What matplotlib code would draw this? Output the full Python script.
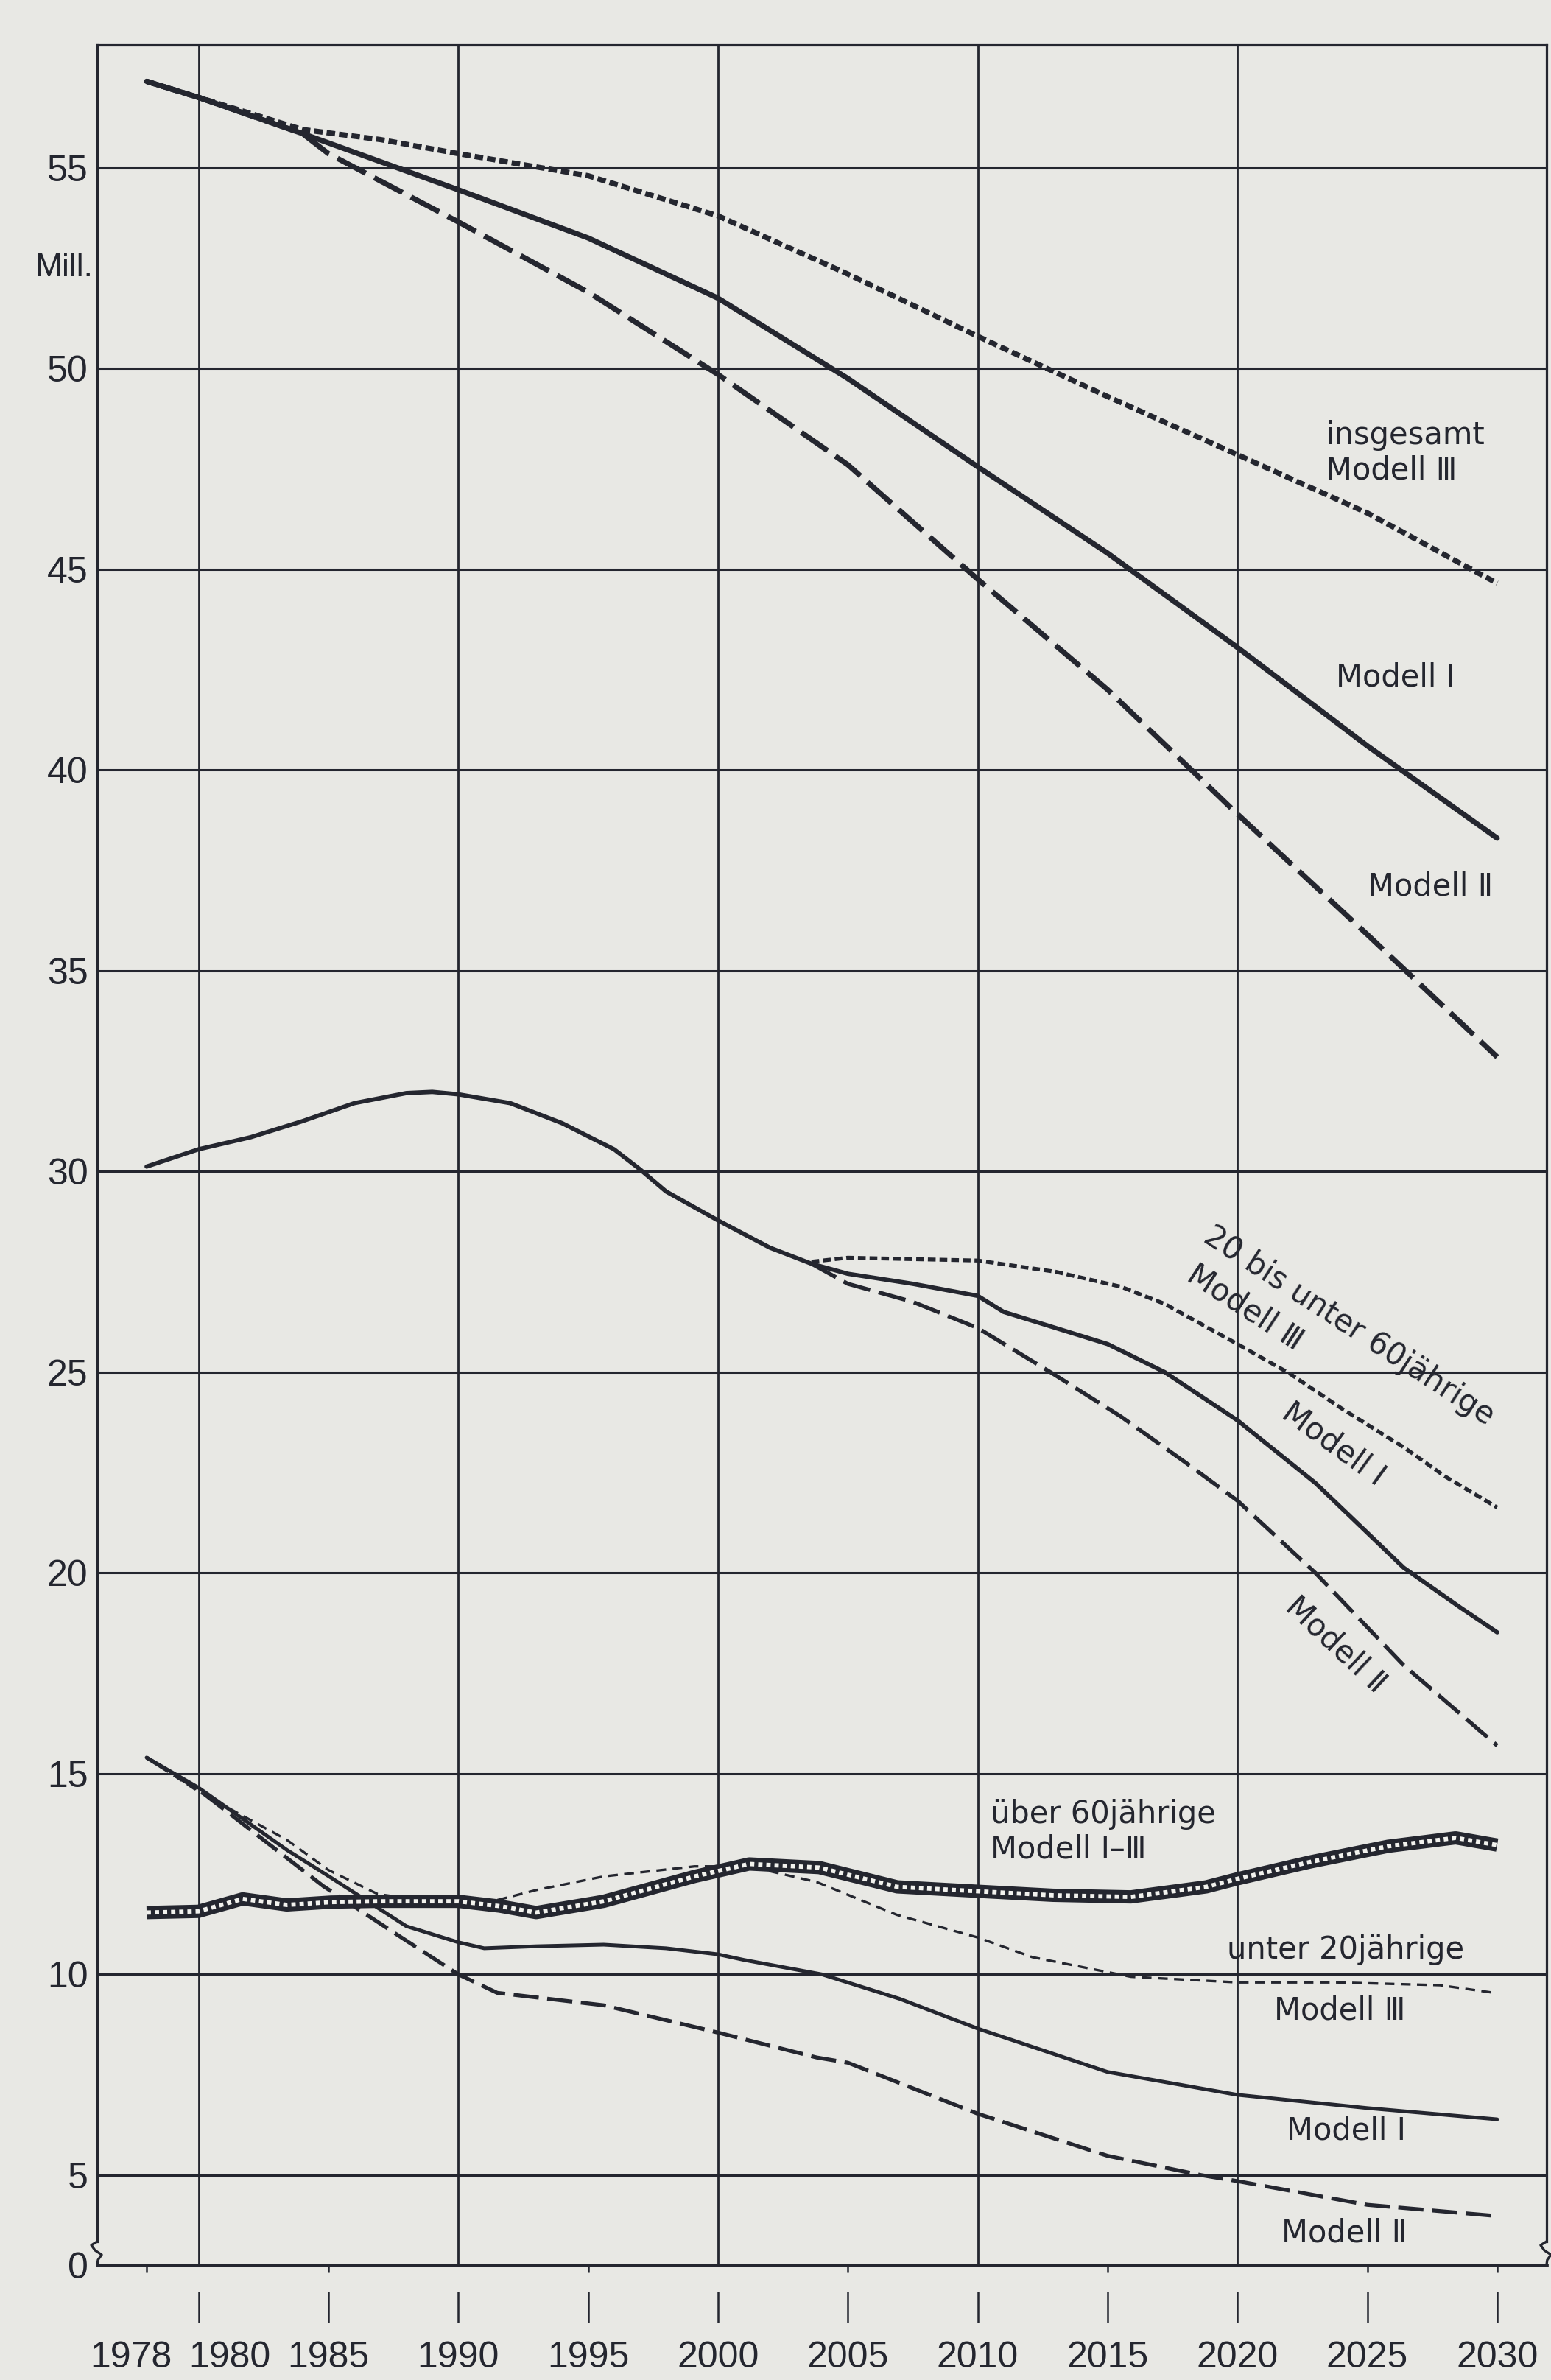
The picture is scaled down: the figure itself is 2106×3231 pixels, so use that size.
import matplotlib
matplotlib.use("Agg")
import matplotlib.pyplot as plt

# ---------------- data (Mill.) ----------------
# Bevoelkerung insgesamt
tot_I_x = [1978, 1980, 1984, 1990, 1995, 2000, 2002, 2005, 2010, 2015, 2020, 2025, 2030]
tot_I_y = [57.15, 56.75, 55.85, 54.45, 53.25, 51.75, 50.95, 49.75, 47.55, 45.4, 43.05, 40.6, 38.3]
tot_II_x = [1978, 1980, 1984, 1985, 1990, 1995, 2000, 2005, 2010, 2015, 2020, 2025, 2030]
tot_II_y = [57.15, 56.75, 55.85, 55.35, 53.65, 51.9, 49.85, 47.6, 44.75, 42.0, 38.9, 35.9, 32.85]
tot_III_x = [1978, 1980, 1984, 1987, 1990, 1995, 2000, 2005, 2010, 2015, 2020, 2025, 2030]
tot_III_y = [57.15, 56.75, 55.95, 55.7, 55.35, 54.8, 53.8, 52.35, 50.8, 49.3, 47.85, 46.4, 44.65]

# 20 bis unter 60jaehrige
mid_I_x = [1978, 1980, 1982, 1984, 1986, 1988, 1989, 1990, 1992, 1994, 1996, 1997, 1998, 2000, 2002,
           2003.6, 2005, 2007.5, 2010, 2011, 2015, 2017.2, 2020, 2023, 2025, 2026.4, 2028.6, 2030]
mid_I_y = [30.12, 30.55, 30.85, 31.25, 31.7, 31.95, 31.98, 31.92, 31.7, 31.2, 30.55, 30.05, 29.5, 28.78, 28.1,
           27.7, 27.45, 27.2, 26.9, 26.5, 25.7, 25.0, 23.8, 22.24, 21.0, 20.13, 19.13, 18.52]
mid_II_x = [2003.6, 2005, 2007.5, 2010, 2012.8, 2015.5, 2018, 2020, 2023, 2026.4, 2030]
mid_II_y = [27.7, 27.2, 26.75, 26.1, 25.0, 23.9, 22.75, 21.8, 20.0, 17.7, 15.7]
mid_III_x = [2003.6, 2005, 2010, 2013, 2015.5, 2017.2, 2020, 2022, 2024, 2026.4, 2028, 2030]
mid_III_y = [27.75, 27.85, 27.78, 27.5, 27.13, 26.7, 25.7, 24.97, 24.1, 23.13, 22.4, 21.63]

# ueber 60jaehrige (Modell I-III)
old_x = [1978, 1980, 1981.7, 1983.4, 1985.1, 1986.9, 1990, 1991.6, 1993, 1995.6, 1999.1, 2001.2,
         2003.9, 2006.9, 2010, 2012.9, 2015.9, 2018.8, 2020, 2022.8, 2025.8, 2028.4, 2030]
old_y = [11.54, 11.57, 11.88, 11.73, 11.8, 11.82, 11.82, 11.7, 11.54, 11.82, 12.44, 12.75,
         12.66, 12.18, 12.07, 11.97, 11.93, 12.18, 12.38, 12.8, 13.19, 13.4, 13.22]

# unter 20jaehrige
young_I_x = [1978, 1980, 1983.4, 1985, 1988, 1990, 1991, 1993, 1995.6, 1998, 2000, 2001, 2004, 2007,
             2010, 2015, 2020, 2025, 2030]
young_I_y = [15.4, 14.65, 13.1, 12.45, 11.2, 10.8, 10.65, 10.7, 10.74, 10.65, 10.5, 10.36, 10.0, 9.39,
             8.65, 7.57, 7.0, 6.67, 6.39]
young_II_x = [1978, 1980, 1984.8, 1987.5, 1990, 1991.5, 1995.6, 2000, 2003.8, 2005, 2010, 2015,
              2018.6, 2020, 2025, 2030]
young_II_y = [15.4, 14.6, 12.2, 11.05, 10.0, 9.54, 9.23, 8.55, 7.93, 7.8, 6.53, 5.48,
              5.0, 4.85, 4.26, 3.98]
young_III_x = [1978, 1980, 1983.4, 1985, 1986.9, 1988, 1990, 1991.5, 1993, 1995.6, 1999.1, 2001.2,
               2003.8, 2006.9, 2010, 2012.1, 2015.9, 2020, 2023.8, 2027.8, 2030]
young_III_y = [15.4, 14.55, 13.35, 12.6, 12.0, 11.9, 11.85, 11.85, 12.1, 12.44, 12.69, 12.69,
               12.3, 11.48, 10.92, 10.43, 9.94, 9.8, 9.8, 9.73, 9.53]

# axis texts
y_tick_vals = [2.76, 5, 10, 15, 20, 25, 30, 35, 40, 45, 50, 55]
y_tick_labels = ["0", "5", "10", "15", "20", "25", "30", "35", "40", "45", "50", "55"]
x_major = [1980, 1985, 1990, 1995, 2000, 2005, 2010, 2015, 2020, 2025, 2030]
x_major_labels = ["", "1985", "1990", "1995", "2000", "2005", "2010", "2015", "2020", "2025", "2030"]
x_extra_pos = [1977.4, 1981.2]
x_extra_labels = ["1978", "1980"]
x_small_ticks = [1978, 1985, 1995, 2005, 2015, 2025, 2030]
grid_x = [1980, 1990, 2000, 2010, 2020]
grid_y = [5, 10, 15, 20, 25, 30, 35, 40, 45, 50, 55]

# ---------------- style ----------------
BG = "#e8e8e4"
INK = "#24262f"
XMIN, XMAX = 1976.1, 2031.9
YMIN, YMAX = 2.76, 58.05
NUMFONT = ["Liberation Sans", "DejaVu Sans"]

fig = plt.figure(figsize=(21.06, 32.31), dpi=100, facecolor=BG)
ax = fig.add_axes([0.0627, 0.0483, 0.9344, 0.9327])
ax.set_facecolor(BG)
ax.set_xlim(XMIN, XMAX)
ax.set_ylim(YMIN, YMAX)

for gx in grid_x:
    ax.axvline(gx, color=INK, lw=2.0, zorder=1)
for gy in grid_y:
    ax.axhline(gy, color=INK, lw=2.2, zorder=1)

# spines
px_y = (YMAX - YMIN) / 3014.0
for s in ["left", "right"]:
    ax.spines[s].set_color(INK)
    ax.spines[s].set_linewidth(2.3)
    ax.spines[s].set_bounds(YMIN + 32 * px_y, YMAX)
ax.spines["top"].set_color(INK)
ax.spines["top"].set_linewidth(2.3)
ax.spines["bottom"].set_color(INK)
ax.spines["bottom"].set_linewidth(3.4)

# axis-break squiggles (axes fraction)
hx = 1.0 / 1968.0
hy = 1.0 / 3014.0
sq_dx = [0, -8, -3, 6, 1, 0]
sq_dy = [32, 27, 20, 14, 7, 0]
for x0 in (0.0, 1.0):
    ax.plot([x0 + d * hx for d in sq_dx], [d * hy for d in sq_dy], color=INK, lw=2.4,
            transform=ax.transAxes, clip_on=False, solid_capstyle="round", zorder=5)

# ---------------- series ----------------
def line(x, y, lw, dashes=None, z=3):
    kw = dict(color=INK, lw=lw, zorder=z, solid_capstyle="round", solid_joinstyle="round")
    if dashes is not None:
        kw.update(dashes=dashes, dash_capstyle="butt")
    ax.plot(x, y, **kw)

# insgesamt
line(tot_III_x, tot_III_y, 5.2, (1.6, 0.75))
line(tot_II_x, tot_II_y, 5.2, (6.0, 1.8))
line(tot_I_x, tot_I_y, 5.2)

# 20 bis unter 60
line(mid_III_x, mid_III_y, 3.8, (2.0, 1.0))
line(mid_II_x, mid_II_y, 3.9, (7.0, 2.2))
line(mid_I_x, mid_I_y, 4.2)

# unter 20
line(young_III_x, young_III_y, 2.4, (4.0, 2.6), z=4)
line(young_II_x, young_II_y, 3.8, (6.5, 2.2))
line(young_I_x, young_I_y, 3.6)

# ueber 60: black band with white squares
ax.plot(old_x, old_y, color=INK, lw=13, solid_capstyle="butt", solid_joinstyle="round", zorder=5)
ax.plot(old_x, old_y, color="#f2f2ee", lw=4.2, dashes=(1.0, 0.9), dash_capstyle="butt", zorder=6)

# ---------------- ticks ----------------
ax.set_yticks(y_tick_vals, y_tick_labels)
ax.tick_params(axis="y", length=0, pad=9, labelsize=36, labelcolor=INK)
for t in ax.get_yticklabels():
    t.set_fontfamily(NUMFONT)

ax.set_xticks(x_small_ticks, [""] * len(x_small_ticks))
ax.tick_params(axis="x", direction="out", length=7, width=1.8, color=INK)

sec = ax.secondary_xaxis(-36.0 / 3014.0)
sec.spines["bottom"].set_visible(False)
sec.set_ticks(x_major, x_major_labels)
sec.set_ticks(x_extra_pos, x_extra_labels, minor=True)
sec.tick_params(which="major", direction="out", length=30, width=1.8, color=INK,
                pad=18, labelsize=36, labelcolor=INK)
sec.tick_params(which="minor", length=0, pad=48, labelsize=36, labelcolor=INK)
for t in sec.get_xticklabels() + sec.get_xticklabels(minor=True):
    t.set_fontfamily(NUMFONT)

# y unit label
ax.text(-0.003, 52.5, "Mill.", transform=ax.get_yaxis_transform(), ha="right", va="center",
        fontsize=32, color=INK, family=NUMFONT)

# ---------------- labels ----------------
TF = ["DejaVu Sans"]
FS = 30
def lab(x, y, s, rot=0, ha="left", va="center"):
    ax.text(x, y, s, fontsize=FS, color=INK, family=TF, rotation=rot, ha=ha, va=va,
            rotation_mode="anchor", linespacing=1.15, zorder=8)

lab(2023.4, 47.9, "insgesamt\nModell \u2162")
lab(2023.8, 42.3, "Modell \u2160")
lab(2025.0, 37.1, "Modell \u2161")

lab(2024.3, 26.15, "20 bis unter 60jährige", rot=-33, ha="center")
lab(2020.3, 26.6, "Modell \u2162", rot=-33, ha="center")
lab(2023.7, 23.2, "Modell \u2160", rot=-36, ha="center")
lab(2023.8, 18.2, "Modell \u2161", rot=-43, ha="center")

lab(2010.5, 13.55, "über 60jährige\nModell \u2160\u2013\u2162")
lab(2019.6, 10.62, "unter 20jährige")
lab(2021.4, 9.1, "Modell \u2162")
lab(2021.9, 6.1, "Modell \u2160")
lab(2021.7, 3.55, "Modell \u2161")

fig.savefig("out.png", dpi=100, facecolor=BG)
